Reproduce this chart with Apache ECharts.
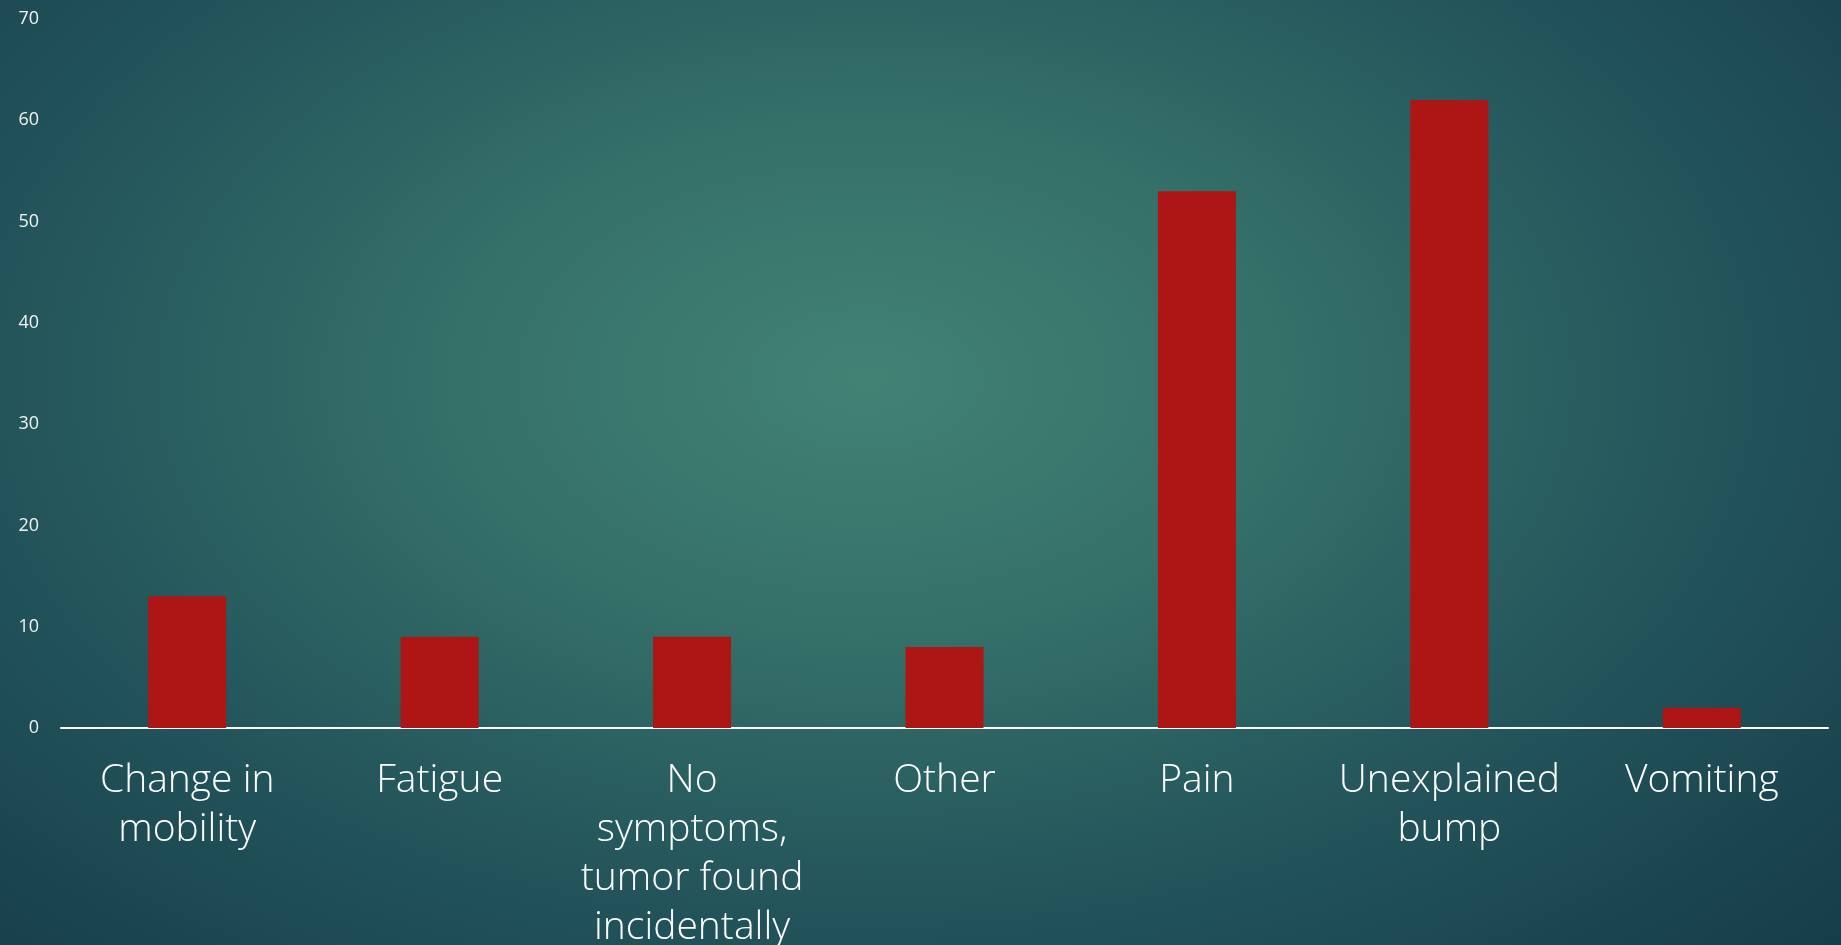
<!DOCTYPE html>
<html>
<head>
<meta charset="utf-8">
<script src="https://cdn.jsdelivr.net/npm/echarts@6/dist/echarts.min.js"></script>
<style>
html,body{margin:0;padding:0;width:1841px;height:945px;overflow:hidden;}
#bg{position:absolute;left:0;top:0;width:1841px;height:945px;
background:radial-gradient(ellipse 75% 90% at 47% 40%, rgb(66,130,117) 0%, rgb(53,112,105) 30%, rgb(36,86,92) 60%, rgb(20,58,72) 100%);}
#chart{position:absolute;left:0;top:0;width:1841px;height:945px;}
</style>
</head>
<body>
<div id="bg"></div>
<div id="chart"></div>
<script>
const categories = ["Change in\nmobility", "Fatigue", "No\nsymptoms,\ntumor found\nincidentally", "Other", "Pain", "Unexplained\nbump", "Vomiting"];
const values = [13, 9, 9, 8, 53, 62, 2];
const yTicks = { min: 0, max: 70, interval: 10 };

const chart = echarts.init(document.getElementById('chart'), null, { renderer: 'canvas' });
chart.setOption({
  backgroundColor: 'transparent',
  animation: false,
  grid: { left: 61, right: 13, top: 19, bottom: 217, containLabel: false, outerBoundsMode: 'none' },
  xAxis: {
    type: 'category',
    data: categories,
    axisLine: { lineStyle: { color: '#ffffff', width: 2 } },
    axisTick: { show: false },
    axisLabel: {
      color: '#ffffff', fontSize: 39, fontFamily: 'Open Sans', fontWeight: 300,
      lineHeight: 49, margin: 28, interval: 0
    }
  },
  yAxis: {
    type: 'value',
    min: yTicks.min, max: yTicks.max, interval: yTicks.interval,
    axisLine: { show: false },
    axisTick: { show: false },
    splitLine: { show: false },
    axisLabel: { color: '#f2f2f2', fontSize: 18, fontFamily: 'Open Sans', fontWeight: 400, margin: 22 }
  },
  series: [{
    type: 'bar',
    data: values,
    barWidth: 78,
    itemStyle: { color: '#ae1515' }
  }]
});
</script>
</body>
</html>
